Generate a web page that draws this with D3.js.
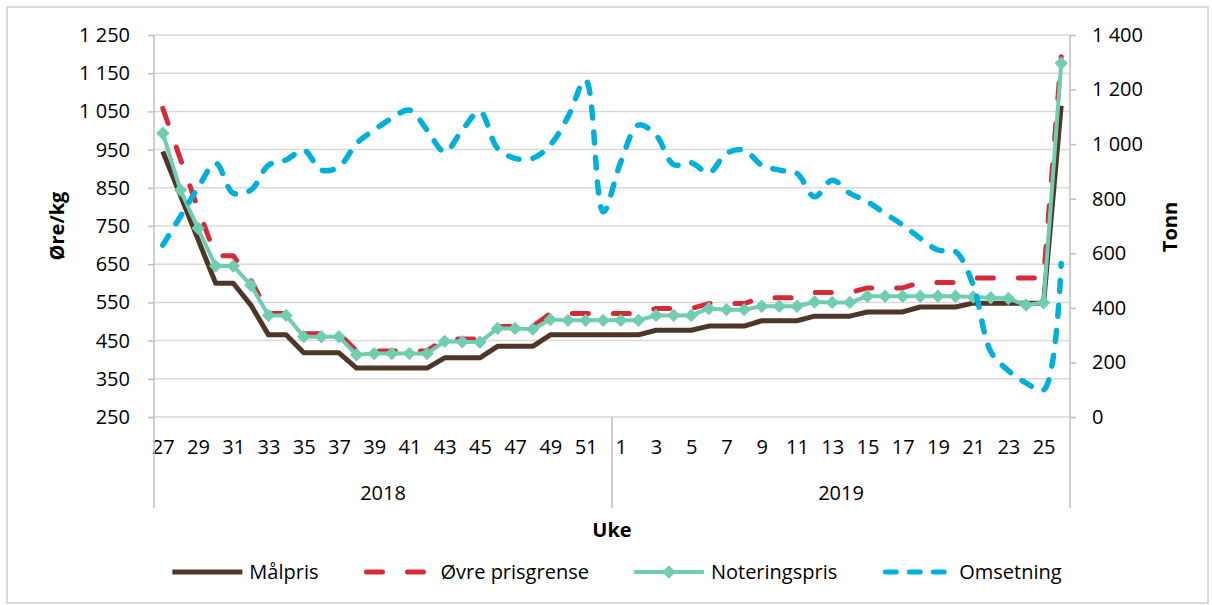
<!DOCTYPE html>
<html>
<head>
<meta charset="utf-8">
<script src="https://cdn.jsdelivr.net/npm/d3@7"></script>
<style>
  body { margin: 0; background: #fff; }
  svg text { font-family: "Open Sans", sans-serif; font-size: 20px; fill: #000; }
  .axisTitle { font-weight: bold; }
</style>
</head>
<body>
<div class="wrapper"></div>
<script>
// set the dimensions and margins of the graph
var margin = { top: 35, right: 142, bottom: 188, left: 154 },
  ultimatew = 1212,
  ultimateh = 605,
  width = ultimatew - margin.left - margin.right,
  height = ultimateh - margin.top - margin.bottom;

// categories (weeks) and years
var weeks2018 = [27, 28, 29, 30, 31, 32, 33, 34, 35, 36, 37, 38, 39, 40, 41, 42, 43, 44, 45, 46, 47, 48, 49, 50, 51, 52];
var weeks2019 = [1, 2, 3, 4, 5, 6, 7, 8, 9, 10, 11, 12, 13, 14, 15, 16, 17, 18, 19, 20, 21, 22, 23, 24, 25, 26];
var years = ["2018", "2019"];

// series, øre/kg (left axis)
var malpris = [945, 830, 715, 600, 600, 543, 465, 465, 418, 418, 418, 378, 378, 378, 378, 378, 405, 405, 405, 435, 435, 435, 465, 465, 465, 465,
  465, 465, 477, 477, 477, 488, 488, 488, 502, 502, 502, 514, 514, 514, 525, 525, 525, 538, 538, 538, 548, 548, 548, 548, 548, 1065];
var ovrePrisgrense = [1058, 925, 795, 672, 672, 608, 521, 521, 468, 468, 468, 423, 423, 423, 423, 423, 454, 454, 454, 487, 487, 487, 521, 521, 521, 521,
  521, 521, 534, 534, 534, 547, 547, 547, 562, 562, 562, 576, 576, 576, 588, 588, 588, 602, 602, 602, 614, 614, 614, 614, 614, 1193];
var noteringspris = [993, 844, 744, 645, 645, 595, 516, 516, 460, 460, 460, 413, 416, 416, 416, 416, 448, 447, 446, 482, 482, 480, 505, 503, 503, 503,
  503, 503, 516, 516, 516, 534, 531, 531, 540, 540, 540, 551, 550, 550, 566, 566, 566, 566, 566, 566, 564, 562, 560, 543, 549, 1176];
// tonn (right axis)
var omsetning = [630, 735, 840, 930, 820, 832, 923, 942, 978, 905, 917, 1003, 1052, 1095, 1125, 1052, 972, 1052, 1119, 985, 948, 948, 997, 1100, 1235, 752,
  935, 1070, 1033, 925, 932, 895, 966, 978, 923, 905, 893, 807, 868, 820, 789, 746, 704, 655, 612, 606, 485, 240, 170, 125, 99, 563];

var leftTicks = [250, 350, 450, 550, 650, 750, 850, 950, 1050, 1150, 1250];
var rightTicks = [0, 200, 400, 600, 800, 1000, 1200, 1400];
var seriesNames = ["Målpris", "Øvre prisgrense", "Noteringspris", "Omsetning"];

var weeks = weeks2018.concat(weeks2019);
var nb = d3.formatLocale({ decimal: ",", thousands: "\u00a0", grouping: [3], currency: ["", ""] });
var fmt = nb.format(",d");

var root = d3
  .select(".wrapper")
  .append("svg")
  .attr("width", ultimatew)
  .attr("height", ultimateh);

// chart border
root
  .append("rect")
  .attr("x", 7)
  .attr("y", 7)
  .attr("width", 1201)
  .attr("height", 596)
  .attr("fill", "none")
  .attr("stroke", "#d0d0d0")
  .attr("stroke-width", 1.5);

var svg = root
  .append("g")
  .attr("transform", "translate(" + margin.left + "," + margin.top + ")");

// scales
var x = d3
  .scalePoint()
  .domain(d3.range(weeks.length))
  .range([0, width])
  .padding(0.5);
var step = x.step();
var yL = d3.scaleLinear().domain([250, 1250]).range([height, 0]);
var yR = d3.scaleLinear().domain([0, 1400]).range([height, 0]);

// gridlines
svg
  .append("g")
  .selectAll("line")
  .data(leftTicks)
  .enter()
  .append("line")
  .attr("x1", 0)
  .attr("x2", width)
  .attr("y1", function(d) { return yL(d); })
  .attr("y2", function(d) { return yL(d); })
  .attr("stroke", "#d9d9d9")
  .attr("stroke-width", 1.5);

// left axis
var gl = svg
  .append("g")
  .attr("class", "axis yLeft")
  .call(d3.axisLeft(yL).tickValues(leftTicks).tickSize(6).tickPadding(18).tickFormat(fmt));
gl.select(".domain").remove();
gl.selectAll("line").attr("stroke", "#bfbfbf").attr("stroke-width", 1.5);

// right axis
var gr = svg
  .append("g")
  .attr("class", "axis yRight")
  .attr("transform", "translate(" + width + ",0)")
  .call(d3.axisRight(yR).tickValues(rightTicks).tickSize(6).tickPadding(16).tickFormat(fmt));
gr.select(".domain").remove();
gr.selectAll("line").attr("stroke", "#bfbfbf").attr("stroke-width", 1.5);

// x axis (week labels)
var gx = svg
  .append("g")
  .attr("class", "axis xAxis")
  .attr("transform", "translate(0," + height + ")")
  .call(
    d3.axisBottom(x)
      .tickValues(d3.range(0, weeks.length, 2))
      .tickSize(0)
      .tickFormat(function(i) { return weeks[i]; })
  );
gx.select(".domain").remove();
gx.selectAll("text").attr("y", 30).attr("dy", "0.35em");

// vertical axis lines and year separator
var seps = [x(0) - step / 2, x(weeks2018.length) - step / 2, x(weeks.length - 1) + step / 2];
svg
  .append("g")
  .selectAll("line")
  .data(seps)
  .enter()
  .append("line")
  .attr("x1", function(d) { return d; })
  .attr("x2", function(d) { return d; })
  .attr("y1", function(d, i) { return i == 1 ? height : 0; })
  .attr("y2", height + 91)
  .attr("stroke", "#bfbfbf")
  .attr("stroke-width", 1.5);

// year labels
svg
  .append("g")
  .selectAll("text")
  .data(years)
  .enter()
  .append("text")
  .attr("x", function(d, i) {
    var a = i == 0 ? 0 : weeks2018.length;
    var b = i == 0 ? weeks2018.length - 1 : weeks.length - 1;
    return (x(a) + x(b)) / 2;
  })
  .attr("y", height + 76)
  .attr("dy", "0.35em")
  .attr("text-anchor", "middle")
  .text(function(d) { return d; });

// axis titles
svg.append("text")
  .attr("class", "axisTitle")
  .attr("x", width / 2)
  .attr("y", height + 113)
  .attr("dy", "0.35em")
  .attr("text-anchor", "middle")
  .text("Uke");
svg.append("text")
  .attr("class", "axisTitle")
  .attr("transform", "translate(-97," + 191 + ") rotate(-90)")
  .attr("dy", "0.35em")
  .attr("text-anchor", "middle")
  .text("Øre/kg");
svg.append("text")
  .attr("class", "axisTitle")
  .attr("transform", "translate(" + (width + 100) + "," + 192 + ") rotate(-90)")
  .attr("dy", "0.35em")
  .attr("text-anchor", "middle")
  .text("Tonn");

// series
var lineL = d3.line()
  .x(function(d, i) { return x(i); })
  .y(function(d) { return yL(d); });
var lineR = d3.line()
  .x(function(d, i) { return x(i); })
  .y(function(d) { return yR(d); })
  .curve(d3.curveCatmullRom.alpha(0.5));

var styles = [
  { color: "#4e3629", width: 5, dash: null, cap: "butt" },
  { color: "#d52b38", width: 5, dash: "16 25", cap: "round" },
  { color: "#70cdb0", width: 4, dash: null, cap: "butt" },
  { color: "#00b0da", width: 5.5, dash: "11 14", cap: "round" }
];

svg.append("path").datum(malpris)
  .attr("d", lineL).attr("fill", "none")
  .attr("stroke", styles[0].color).attr("stroke-width", styles[0].width)
  .attr("stroke-linejoin", "round");
svg.append("path").datum(ovrePrisgrense)
  .attr("d", lineL).attr("fill", "none")
  .attr("stroke", styles[1].color).attr("stroke-width", styles[1].width)
  .attr("stroke-dasharray", styles[1].dash).attr("stroke-linecap", "round")
  .attr("stroke-linejoin", "round");
svg.append("path").datum(noteringspris)
  .attr("d", lineL).attr("fill", "none")
  .attr("stroke", styles[2].color).attr("stroke-width", styles[2].width)
  .attr("stroke-linejoin", "round");

var diamond = d3.symbol().type(d3.symbolSquare).size(90);
svg.append("g")
  .selectAll("path")
  .data(noteringspris)
  .enter()
  .append("path")
  .attr("d", diamond)
  .attr("transform", function(d, i) { return "translate(" + x(i) + "," + yL(d) + ") rotate(45)"; })
  .attr("fill", styles[2].color);

svg.append("path").datum(omsetning)
  .attr("d", lineR).attr("fill", "none")
  .attr("stroke", styles[3].color).attr("stroke-width", styles[3].width)
  .attr("stroke-dasharray", styles[3].dash).attr("stroke-linecap", "round");

// legend
var legend = root.append("g").attr("transform", "translate(0,572)");
var items = legend
  .selectAll("g")
  .data(seriesNames)
  .enter()
  .append("g");

items.each(function(d, i) {
  var g = d3.select(this);
  var s = styles[i];
  g.append("line")
    .attr("x1", 0).attr("x2", 70)
    .attr("y1", 0).attr("y2", 0)
    .attr("stroke", s.color)
    .attr("stroke-width", i == 2 ? 4 : 5)
    .attr("stroke-linecap", s.cap)
    .attr("stroke-dasharray", i == 3 ? "11 13" : s.dash)
    .attr("transform", i == 1 || i == 3 ? "translate(3,0)" : null);
  if (i == 2) {
    g.append("path")
      .attr("d", diamond)
      .attr("transform", "translate(35,0) rotate(45)")
      .attr("fill", s.color);
  }
  g.append("text")
    .attr("x", 77)
    .attr("dy", "0.35em")
    .text(d);
});

var widths = [];
items.each(function() {
  widths.push(77 + d3.select(this).select("text").node().getComputedTextLength());
});
var gap = 45;
var total = d3.sum(widths) + gap * (widths.length - 1);
var start = 617 - total / 2;
items.attr("transform", function(d, i) {
  var off = start + d3.sum(widths.slice(0, i)) + gap * i;
  return "translate(" + off + ",0)";
});
</script>
</body>
</html>
